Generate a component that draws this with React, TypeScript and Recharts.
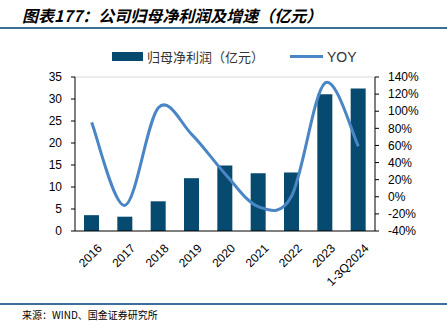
import React from 'react';
import { ComposedChart, Bar, Line, XAxis, YAxis, ReferenceLine } from 'recharts';

const categories = ['2016', '2017', '2018', '2019', '2020', '2021', '2022', '2023', '1-3Q2024'];
const profit = [3.6, 3.25, 6.75, 12.0, 14.9, 13.1, 13.3, 31.1, 32.4];
const yoy = [87, -10, 104, 73, 27, -11.5, 1, 133, 59];
const leftTicks = [0, 5, 10, 15, 20, 25, 30, 35];
const rightTicks = [-40, -20, 0, 20, 40, 60, 80, 100, 120, 140];
const boundaryTicks = [1, 2, 3, 4, 5, 6, 7, 8];

const data = categories.map((c, i) => ({ name: c, profit: profit[i], yoy: yoy[i], pos: i + 0.5 }));

const BAR = '#064A70';
const LINE = '#4A86C5';
const RULE = '#3B6E98';
const FONT = 'Arial, "Liberation Sans", sans-serif';
const CJK = '"Noto Sans CJK SC", sans-serif';

// Catmull-Rom style smoothing (similar to Excel smoothed lines)
const smoothCurve: any = (context: any) => {
  let pts: number[][] = [];
  return {
    areaStart() {},
    areaEnd() {},
    lineStart() { pts = []; },
    point(x: number, y: number) { pts.push([+x, +y]); },
    lineEnd() {
      if (!pts.length) return;
      context.moveTo(pts[0][0], pts[0][1]);
      for (let i = 0; i < pts.length - 1; i++) {
        const p0 = pts[i - 1] || pts[i];
        const p1 = pts[i];
        const p2 = pts[i + 1];
        const p3 = pts[i + 2] || pts[i + 1];
        context.bezierCurveTo(
          p1[0] + (p2[0] - p0[0]) / 6, p1[1] + (p2[1] - p0[1]) / 6,
          p2[0] - (p3[0] - p1[0]) / 6, p2[1] - (p3[1] - p1[1]) / 6,
          p2[0], p2[1]
        );
      }
    },
  };
};

const XTick = (props: any) => {
  const { x, y, payload } = props;
  const ax = x + 5;
  const ay = y + 4;
  return (
    <text
      x={ax}
      y={ay}
      transform={`rotate(-45, ${ax}, ${ay})`}
      textAnchor="end"
      dy="0.71em"
      fontSize={12}
      fontFamily={FONT}
      fill="#000"
    >
      {payload.value}
    </text>
  );
};

export default function App() {
  return (
    <div style={{ position: 'absolute', left: 0, top: 0, width: 447, height: 321, background: '#fff' }}>
      <div
        style={{
          position: 'absolute', left: 22, top: 5, fontFamily: CJK, fontSize: 16,
          fontStyle: 'italic', fontWeight: 'bold', color: '#000', whiteSpace: 'nowrap', lineHeight: '20px',
        }}
      >
        图表177：公司归母净利润及增速（亿元）
      </div>
      <div style={{ position: 'absolute', left: 0, top: 27, width: 447, height: 2, background: RULE }} />

      <div style={{ position: 'absolute', left: 112, top: 52, width: 31, height: 9, background: BAR }} />
      <div
        style={{
          position: 'absolute', left: 147, top: 48, fontFamily: CJK, fontSize: 13, color: '#333',
          whiteSpace: 'nowrap', lineHeight: '18px',
        }}
      >
        归母净利润（亿元）
      </div>
      <div style={{ position: 'absolute', left: 290, top: 55, width: 33, height: 3, background: LINE }} />
      <div
        style={{
          position: 'absolute', left: 327, top: 48, fontFamily: FONT, fontSize: 14, color: '#333',
          whiteSpace: 'nowrap', lineHeight: '18px',
        }}
      >
        YOY
      </div>

      <div style={{ position: 'absolute', left: 0, top: 303, width: 447, height: 2, background: RULE }} />
      <div
        style={{
          position: 'absolute', left: 22, top: 308, fontFamily: CJK, fontSize: 10, color: '#000',
          whiteSpace: 'nowrap', lineHeight: '13px',
        }}
      >
        来源：WIND、国金证券研究所
      </div>

      <div style={{ position: 'absolute', left: 0, top: 0 }}>
        <ComposedChart width={447} height={321} data={data} margin={{ top: 77, right: 0, bottom: 0, left: 0 }}>
          <XAxis
            xAxisId="b"
            type="number"
            dataKey="pos"
            domain={[0, 9]}
            ticks={boundaryTicks}
            allowDataOverflow
            height={0}
            mirror
            axisLine={false}
            tickSize={3}
            tickLine={{ stroke: '#000' }}
            tick={() => <g />}
          />
          <XAxis
            xAxisId="a"
            dataKey="name"
            height={90}
            interval={0}
            axisLine={{ stroke: '#000' }}
            tickLine={false}
            tick={<XTick />}
          />
          <YAxis
            yAxisId="left"
            orientation="left"
            width={75}
            domain={[0, 35]}
            ticks={leftTicks}
            interval={0}
            axisLine={{ stroke: '#000' }}
            tickLine={{ stroke: '#000' }}
            tickSize={4}
            tickMargin={9}
            tick={{ fontSize: 12, fontFamily: FONT, fill: '#000' }}
          />
          <YAxis
            yAxisId="right"
            orientation="right"
            width={72}
            domain={[-40, 140]}
            ticks={rightTicks}
            interval={0}
            axisLine={{ stroke: '#000' }}
            tickLine={{ stroke: '#000' }}
            tickSize={4}
            tickMargin={9}
            tickFormatter={(v: number) => `${v}%`}
            tick={{ fontSize: 12, fontFamily: FONT, fill: '#000' }}
          />
          <ReferenceLine yAxisId="left" xAxisId="a" y={35} stroke="#d9d9d9" />
          <Bar xAxisId="a" yAxisId="left" dataKey="profit" fill={BAR} barSize={15} isAnimationActive={false} />
          <Line
            xAxisId="a"
            yAxisId="right"
            dataKey="yoy"
            type={smoothCurve}
            stroke={LINE}
            strokeWidth={3}
            dot={false}
            activeDot={false}
            isAnimationActive={false}
          />
        </ComposedChart>
      </div>
    </div>
  );
}
